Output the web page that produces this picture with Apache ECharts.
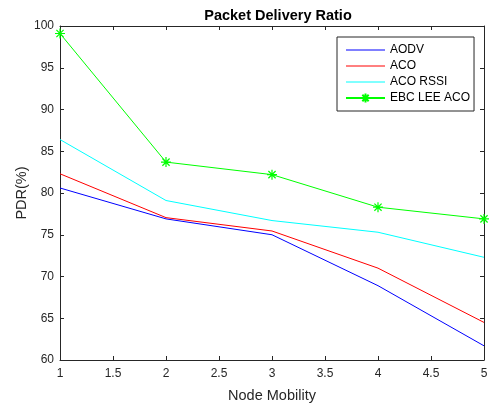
<!DOCTYPE html>
<html>
<head>
<meta charset="utf-8">
<script src="https://cdn.jsdelivr.net/npm/echarts@6/dist/echarts.min.js"></script>
<style>
  html, body { margin: 0; padding: 0; background: #ffffff; }
  #chart { width: 489px; height: 405px; }
</style>
</head>
<body>
<div id="chart"></div>
<script>
// Node mobility levels on the x axis
const mobility = [1, 2, 3, 4, 5];

// Packet delivery ratio (%) per routing protocol
const aodv    = [80.6, 76.9, 75.0, 68.9, 61.7];
const aco     = [82.3, 77.05, 75.45, 71.0, 64.5];
const acoRssi = [86.4, 79.1, 76.7, 75.3, 72.3];
const ebcLee  = [99.1, 83.7, 82.2, 78.3, 76.9];

const seriesNames = ['AODV', 'ACO', 'ACO RSSI', 'EBC LEE ACO'];

const axisColor = '#262626';
const fontFamily = 'Liberation Sans, Arial, sans-serif';
const asterisk = 'path://M0,-5L0,5M-5,0L5,0M-3.6,-3.6L3.6,3.6M-3.6,3.6L3.6,-3.6';

const pairs = vals => mobility.map((x, i) => [x, vals[i]]);

function lineSeries(name, vals, color, marker) {
  return {
    name: name,
    type: 'line',
    data: pairs(vals),
    symbol: marker || 'none',
    symbolSize: 10,
    showSymbol: !!marker,
    lineStyle: { color: color, width: 1 },
    itemStyle: { color: color, borderColor: color, borderWidth: 1.2 },
    emphasis: { disabled: true },
    animation: false
  };
}

// legend entries: plain line for the first three, thicker line with asterisk for the last
const legendData = seriesNames.map((name, i) => {
  const marked = i === seriesNames.length - 1;
  return {
    name: name,
    itemStyle: marked ? { opacity: 1 } : { opacity: 0 },
    lineStyle: { width: marked ? 2 : 1 }
  };
});

const tickStyle = { inside: true, length: 4, lineStyle: { color: axisColor } };
const labelStyle = { color: axisColor, fontSize: 12, fontFamily: fontFamily };

const chart = echarts.init(document.getElementById('chart'), null, { renderer: 'canvas' });
chart.setOption({
  backgroundColor: '#ffffff',
  title: {
    text: 'Packet Delivery Ratio',
    left: 273, top: 3, textAlign: 'center',
    textStyle: { fontSize: 14.5, fontWeight: 'bold', color: '#000', fontFamily: fontFamily }
  },
  legend: {
    data: legendData,
    orient: 'vertical',
    left: 337, top: 37,
    padding: [7, 4, 7, 8],
    itemGap: 4,
    itemWidth: 39,
    itemHeight: 11,
    borderColor: axisColor,
    borderWidth: 1,
    backgroundColor: '#ffffff',
    textStyle: { fontSize: 12, color: '#000', fontFamily: fontFamily },
    selectedMode: false
  },
  grid: { left: 60, right: 5, top: 26, bottom: 45, containLabel: false, outerBoundsMode: 'none' },
  xAxis: [{
    type: 'value', min: 1, max: 5, interval: 0.5,
    name: 'Node Mobility', nameLocation: 'middle', nameGap: 28,
    nameTextStyle: { fontSize: 14.5, color: axisColor, fontFamily: fontFamily },
    axisLine: { lineStyle: { color: axisColor } },
    axisTick: tickStyle,
    axisLabel: Object.assign({ margin: 8 }, labelStyle),
    splitLine: { show: false }
  }, {
    type: 'value', min: 1, max: 5, interval: 0.5, position: 'top',
    axisLine: { lineStyle: { color: axisColor } },
    axisTick: tickStyle, axisLabel: { show: false }, splitLine: { show: false }
  }],
  yAxis: [{
    type: 'value', min: 60, max: 100, interval: 5,
    name: 'PDR(%)', nameLocation: 'middle', nameGap: 31, nameMoveOverlap: false,
    nameTextStyle: { fontSize: 14.5, color: axisColor, fontFamily: fontFamily },
    axisLine: { show: true, lineStyle: { color: axisColor } },
    axisTick: Object.assign({ show: true }, tickStyle),
    axisLabel: Object.assign({ margin: 6 }, labelStyle),
    splitLine: { show: false }
  }, {
    type: 'value', min: 60, max: 100, interval: 5, position: 'right',
    axisLine: { show: true, lineStyle: { color: axisColor } },
    axisTick: Object.assign({ show: true }, tickStyle),
    axisLabel: { show: false }, splitLine: { show: false }
  }],
  series: [
    lineSeries('AODV', aodv, '#0000ff'),
    lineSeries('ACO', aco, '#ff0000'),
    lineSeries('ACO RSSI', acoRssi, '#00ffff'),
    lineSeries('EBC LEE ACO', ebcLee, '#00ff00', asterisk)
  ]
});
</script>
</body>
</html>
